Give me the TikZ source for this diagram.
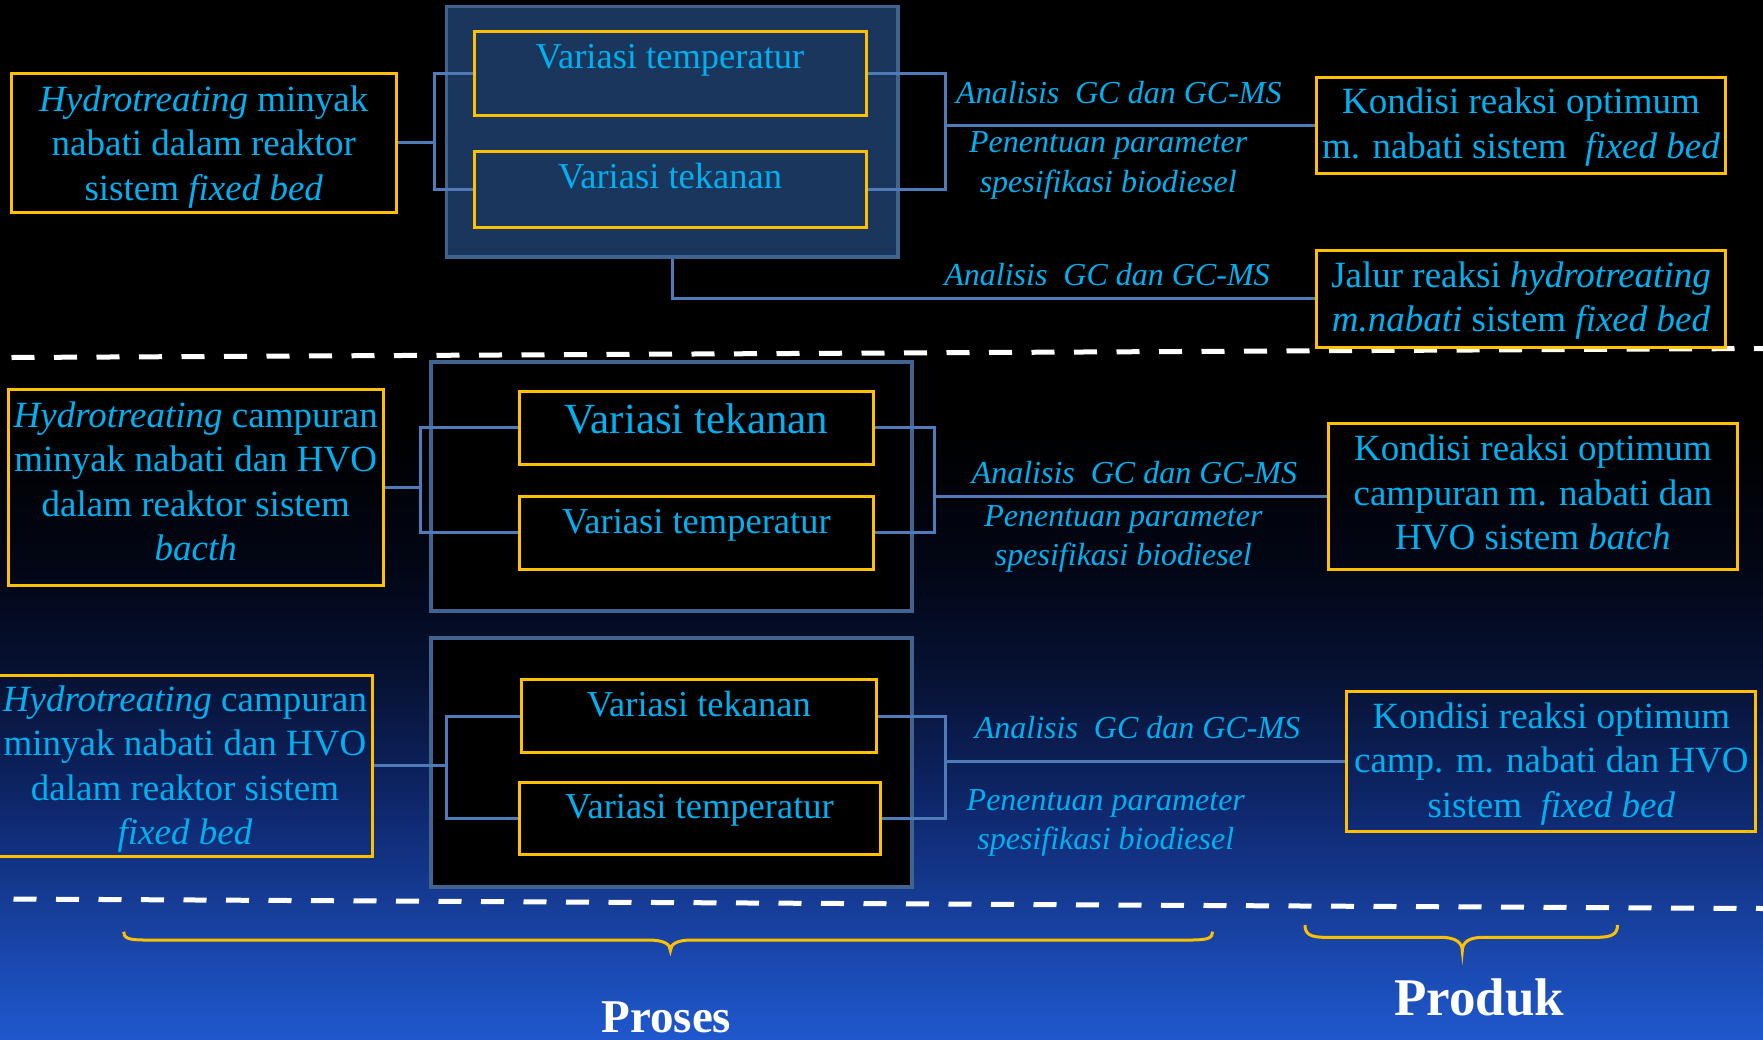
\documentclass[tikz,border=0pt]{standalone}
\usepackage{fontspec}
\setmainfont{Liberation Serif}
\definecolor{txtc}{HTML}{00B0F0}
\definecolor{goldc}{HTML}{FFC000}
\definecolor{linkc}{HTML}{4F7BB8}
\definecolor{framec}{HTML}{41638F}
\definecolor{navyc}{HTML}{1B365D}
\definecolor{bgA}{RGB}{2,6,20}
\definecolor{bgB}{RGB}{7,18,52}
\definecolor{bgC}{RGB}{14,38,105}
\definecolor{bgD}{RGB}{23,64,158}
\definecolor{bgE}{RGB}{31,88,205}
\newcommand\fsMain{\fontsize{37}{44.5}\selectfont}
\newcommand\fsVar{\fontsize{36.5}{44}\selectfont}
\newcommand\fsBig{\fontsize{43}{50}\selectfont}
\newcommand\fsLab{\fontsize{32}{39.5}\selectfont\itshape}
\tikzset{
  gbox/.style={draw=goldc, line width=3pt, inner sep=0pt},
  gtext/.style={text=txtc, inner sep=0pt, align=center, font=\fsMain,
    execute at begin node={\rule{0pt}{33pt}}, execute at end node={\rule[-11.5pt]{0pt}{11.5pt}}},
  bigframe/.style={draw=framec, line width=4pt, inner sep=0pt},
  vartxt/.style={text=txtc, font=\fsVar, inner sep=0pt},
  labtxt/.style={text=txtc, font=\fsLab, inner sep=0pt, align=center},
  conn/.style={draw=linkc, line width=3pt},
  bracec/.style={draw=goldc, line width=3pt},
  divider/.style={draw=white, line width=5pt, dash pattern=on 23pt off 19.5pt},
  bigtxt/.style={text=white, inner sep=0pt}
}
\begin{document}
\begin{tikzpicture}[x=1pt,y=-1pt]
\useasboundingbox (0,0) rectangle (1763,1039);
% background
\fill[black] (0,0) rectangle (1763,1039);
\shade[top color=black, bottom color=bgA] (0,430) rectangle (1763,561);
\shade[top color=bgA, bottom color=bgB] (0,560) rectangle (1763,681);
\shade[top color=bgB, bottom color=bgC] (0,680) rectangle (1763,801);
\shade[top color=bgC, bottom color=bgD] (0,800) rectangle (1763,921);
\shade[top color=bgD, bottom color=bgE] (0,920) rectangle (1763,1039);
% dividers
\draw[divider] (11.5,357.5) -- (1763,348.5);
\draw[divider] (13.5,899) -- (1763,908.5);
% frames
\node[bigframe, fill=navyc, line width=3.5pt, minimum width=451.4pt, minimum height=250.3pt] (topframe) at (672.3,131.85) {};
\node[bigframe, fill=black, minimum width=481pt, minimum height=249.7pt] (midframe) at (671,486.45) {};
\node[bigframe, fill=black, minimum width=481.5pt, minimum height=249.1pt] (botframe) at (671.25,762.15) {};
% top section
\node[gbox, minimum width=392pt, minimum height=83.3pt] (vt1) at (670,73.35) {};
\node[vartxt, anchor=base] (vt1t) at (670,68.3) {Variasi temperatur};
\node[gbox, minimum width=392pt, minimum height=76pt] (vk1) at (670,189.7) {};
\node[vartxt, anchor=base] (vk1t) at (670,188.3) {Variasi tekanan};
\node[gbox, minimum width=384.5pt, minimum height=139pt] (L1) at (203.75,142.5) {};
\node[gtext, yshift=-6pt] (L1t) at (L1) {\textit{Hydrotreating} minyak\\nabati dalam reaktor\\sistem \textit{fixed bed}};
\node[gbox, minimum width=409pt, minimum height=96pt] (K1) at (1521,125) {};
\node[gtext, yshift=-4pt] (K1t) at (K1) {Kondisi reaksi optimum\\m. nabati sistem~ \textit{fixed bed}};
\node[gbox, minimum width=409pt, minimum height=97pt] (J1) at (1521,298.5) {};
\node[gtext, yshift=-4pt] (J1t) at (J1) {Jalur reaksi \textit{hydrotreating}\\\textit{m.nabati} sistem \textit{fixed bed}};
\node[labtxt, anchor=base] (a1) at (1118.9,103) {Analisis~ GC dan GC-MS};
\node[labtxt] (p1) at (1108.2,165.5) {Penentuan parameter\\spesifikasi biodiesel};
\node[labtxt, anchor=base] (a0) at (1107,285) {Analisis~ GC dan GC-MS};
% middle section
\node[gbox, minimum width=354.7pt, minimum height=72.6pt] (vk2) at (696.35,427.7) {};
\node[vartxt, font=\fsBig, anchor=base] (vk2t) at (696.35,433.5) {Variasi tekanan};
\node[gbox, minimum width=354.7pt, minimum height=72.6pt] (vt2) at (696.35,532.9) {};
\node[vartxt, anchor=base] (vt2t) at (696.35,533.1) {Variasi temperatur};
\node[gbox, minimum width=375.5pt, minimum height=195.7pt] (L2) at (195.75,487.15) {};
\node[gtext] (L2t) at (L2) {\textit{Hydrotreating} campuran\\minyak nabati dan HVO\\dalam reaktor sistem\\\textit{bacth}};
\node[gbox, minimum width=409.4pt, minimum height=146.2pt] (K2) at (1532.9,496.1) {};
\node[gtext, yshift=-2pt] (K2t) at (K2) {Kondisi reaksi optimum\\campuran m. nabati dan\\HVO sistem \textit{batch}};
\node[labtxt, anchor=base] (a2) at (1134.4,483.8) {Analisis~ GC dan GC-MS};
\node[labtxt] (p2) at (1123.4,539) {Penentuan parameter\\spesifikasi biodiesel};
% bottom section
\node[gbox, minimum width=355.6pt, minimum height=72.6pt] (vk3) at (698.8,716) {};
\node[vartxt, anchor=base] (vk3t) at (698.8,716.5) {Variasi tekanan};
\node[gbox, minimum width=361pt, minimum height=72.3pt] (vt3) at (699.5,818.25) {};
\node[vartxt, anchor=base] (vt3t) at (699.5,818.3) {Variasi temperatur};
\node[gbox, minimum width=374pt, minimum height=181.7pt] (L3) at (185,765.95) {};
\node[gtext, yshift=-5pt] (L3t) at (L3) {\textit{Hydrotreating} campuran\\minyak nabati dan HVO\\dalam reaktor sistem\\\textit{fixed bed}};
\node[gbox, minimum width=408.9pt, minimum height=140.3pt] (K3) at (1551.35,761.45) {};
\node[gtext, yshift=-4pt] (K3t) at (K3) {Kondisi reaksi optimum\\camp. m. nabati dan HVO\\sistem~ \textit{fixed bed}};
\node[labtxt, anchor=base] (a3) at (1137.5,738.5) {Analisis~ GC dan GC-MS};
\node[labtxt] (p3) at (1105.8,823) {Penentuan parameter\\spesifikasi biodiesel};
% connectors
\coordinate (bl1) at (434.5,0);
\coordinate (br1) at (945,0);
\coordinate (bl2) at (420,0);
\coordinate (br2) at (934.7,0);
\coordinate (bl3) at (446.6,0);
\coordinate (br3) at (945,0);
\draw[conn] (L1.east) -- (bl1 |- L1.east);
\draw[conn] (vt1.west) -| (bl1 |- vk1.west) -- (vk1.west);
\draw[conn] (vt1.east) -| (br1 |- vk1.east) -- (vk1.east);
\draw[conn] (br1 |- K1.west) -- (K1.west);
\draw[conn] (topframe.south) |- (J1.west);
\draw[conn] (L2.east) -- (bl2 |- L2.east);
\draw[conn] (vk2.west) -| (bl2 |- vt2.west) -- (vt2.west);
\draw[conn] (vk2.east) -| (br2 |- vt2.east) -- (vt2.east);
\draw[conn] (br2 |- K2.west) -- (K2.west);
\draw[conn] (L3.east) -- (bl3 |- L3.east);
\draw[conn] (vk3.west) -| (bl3 |- vt3.west) -- (vt3.west);
\draw[conn] (vk3.east) -| (br3 |- vt3.east) -- (vt3.east);
\draw[conn] (br3 |- K3.west) -- (K3.west);
% braces
\draw[bracec] (123.7,931.7) .. controls (123.7,938) and (128,940) .. (145,940) -- (648,940) .. controls (664,940) and (670.4,944) .. (670.4,950.7) .. controls (670.4,944) and (677,940) .. (692,940) -- (1191,940) .. controls (1208,940) and (1212.6,938) .. (1212.6,931.7);
\draw[bracec] (1305,925) .. controls (1305,934) and (1310,937.3) .. (1325,937.3) -- (1441,937.3) .. controls (1456,937.3) and (1462.3,943) .. (1462.3,950.7) .. controls (1462.3,943) and (1468,937.3) .. (1483,937.3) -- (1597,937.3) .. controls (1612,937.3) and (1617.5,934) .. (1617.5,925);
% captions
\node[bigtxt, font=\fontsize{47}{50}\selectfont\bfseries, anchor=base] (proses) at (666.4,1032) {Proses};
\node[bigtxt, font=\fontsize{53}{56}\selectfont\bfseries, anchor=base] (produk) at (1479,1015) {Produk};
\end{tikzpicture}
\end{document}
